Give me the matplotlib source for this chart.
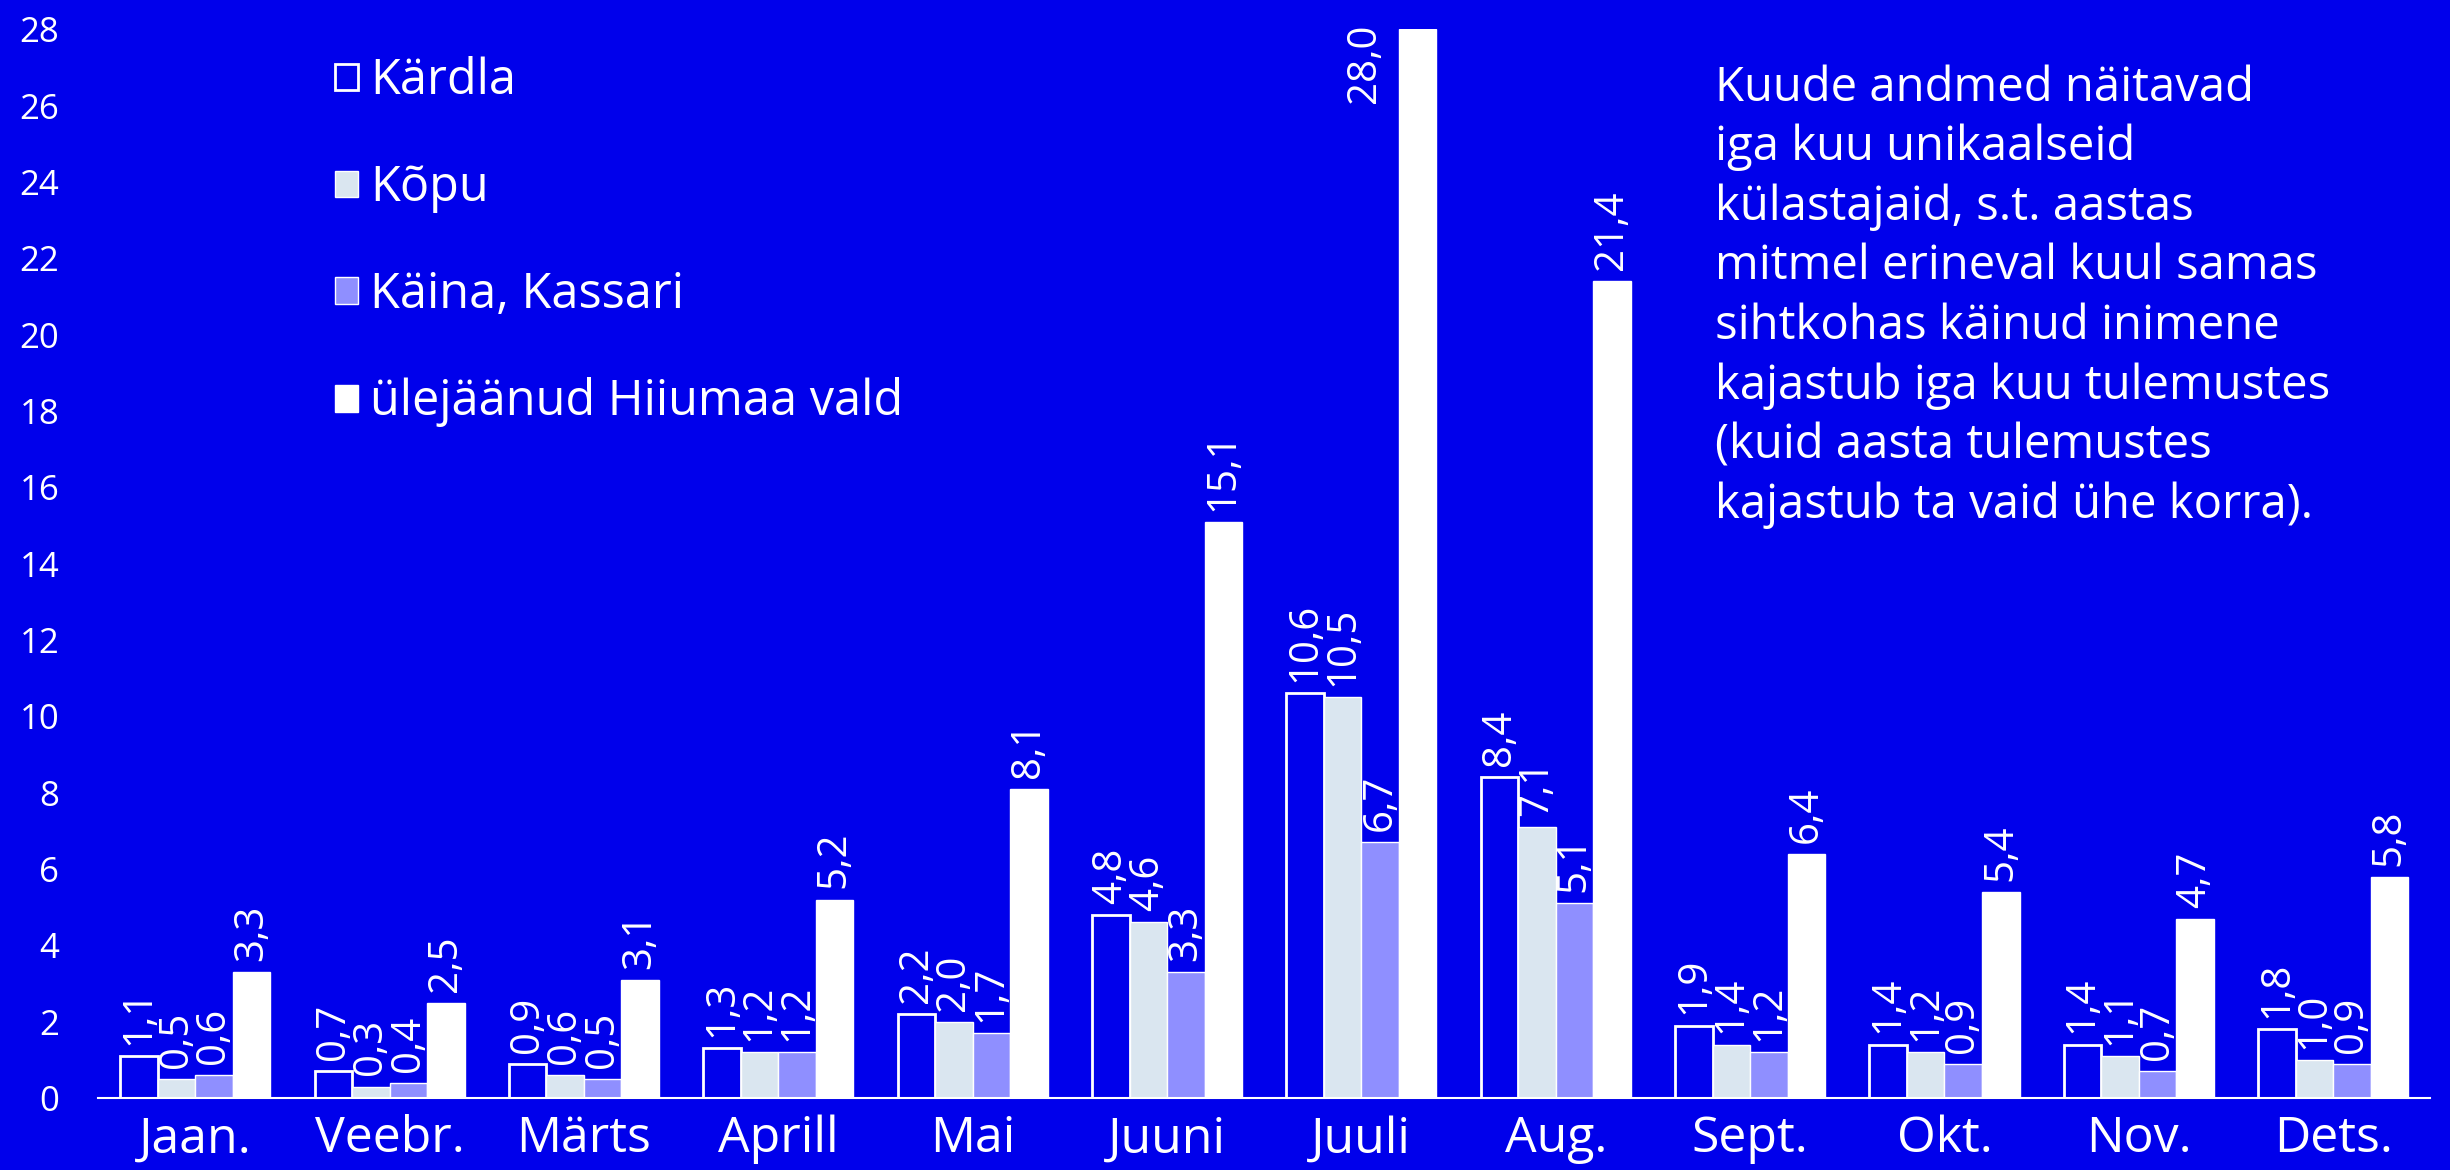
import matplotlib.pyplot as plt
import numpy as np

plt.rcParams['font.family'] = ['Open Sans', 'DejaVu Sans']

months = ["Jaan.", "Veebr.", "Märts", "Aprill", "Mai", "Juuni",
          "Juuli", "Aug.", "Sept.", "Okt.", "Nov.", "Dets."]
kardla = [1.1, 0.7, 0.9, 1.3, 2.2, 4.8, 10.6, 8.4, 1.9, 1.4, 1.4, 1.8]
kopu = [0.5, 0.3, 0.6, 1.2, 2.0, 4.6, 10.5, 7.1, 1.4, 1.2, 1.1, 1.0]
kaina = [0.6, 0.4, 0.5, 1.2, 1.7, 3.3, 6.7, 5.1, 1.2, 0.9, 0.7, 0.9]
muu = [3.3, 2.5, 3.1, 5.2, 8.1, 15.1, 28.0, 21.4, 6.4, 5.4, 4.7, 5.8]
names = ["Kärdla", "Kõpu", "Käina, Kassari", "ülejäänud Hiiumaa vald"]

note = ("Kuude andmed näitavad\niga kuu unikaalseid\nkülastajaid, s.t. aastas\n"
        "mitmel erineval kuul samas\nsihtkohas käinud inimene\n"
        "kajastub iga kuu tulemustes\n(kuid aasta tulemustes\n"
        "kajastub ta vaid ühe korra).")

bg = "#0000EB"
fills = [bg, "#DAE6F0", "#8F8FFF", "white"]

fig = plt.figure(figsize=(24.5, 11.7), dpi=100, facecolor=bg)
ax = fig.add_axes([0.04, 0.0615, 0.952, 0.9135], facecolor=bg)

x = np.arange(len(months))
w = 0.193
ymax = 28
for i, (vals, fc) in enumerate(zip([kardla, kopu, kaina, muu], fills)):
    pos = x + (i - 1.5) * w
    ax.bar(pos, vals, width=w, color=fc, edgecolor="white",
           linewidth=2 if i == 0 else 1, label=names[i])
    for px, v in zip(pos, vals):
        txt = f"{v:.1f}".replace(".", ",")
        if v >= ymax:
            # no room above the top bar -> put it beside
            ax.annotate(txt, (px - w / 2, v), xytext=(-10, 4), textcoords="offset points",
                        rotation=90, ha="right", va="top", color="white", fontsize=29)
        else:
            ax.annotate(txt, (px, v), xytext=(0, 8), textcoords="offset points",
                        rotation=90, ha="center", va="bottom", color="white", fontsize=29)

ax.set_xlim(-0.5, 11.5)
ax.set_ylim(0, ymax)
ax.set_yticks(range(0, 29, 2))
ax.set_xticks(x)
ax.set_xticklabels(months)
ax.tick_params(axis="y", length=0, pad=28, labelsize=25, labelcolor="white")
ax.tick_params(axis="x", length=0, pad=12, labelsize=36, labelcolor="white")
for s in ["top", "right", "left"]:
    ax.spines[s].set_visible(False)
ax.spines["bottom"].set_color("white")
ax.spines["bottom"].set_linewidth(1.5)

leg = ax.legend(loc="upper left", bbox_to_anchor=(0.087, 1.006), frameon=False,
                fontsize=35, handlelength=0.47, handleheight=0.47, handletextpad=0.25,
                labelspacing=1.18, borderaxespad=0.3)
for t in leg.get_texts():
    t.set_color("white")

fig.text(0.7, 0.945, note, color="white", fontsize=34, va="top", ha="left",
         linespacing=1.33)

fig.savefig("out.png", dpi=100, facecolor=bg)
